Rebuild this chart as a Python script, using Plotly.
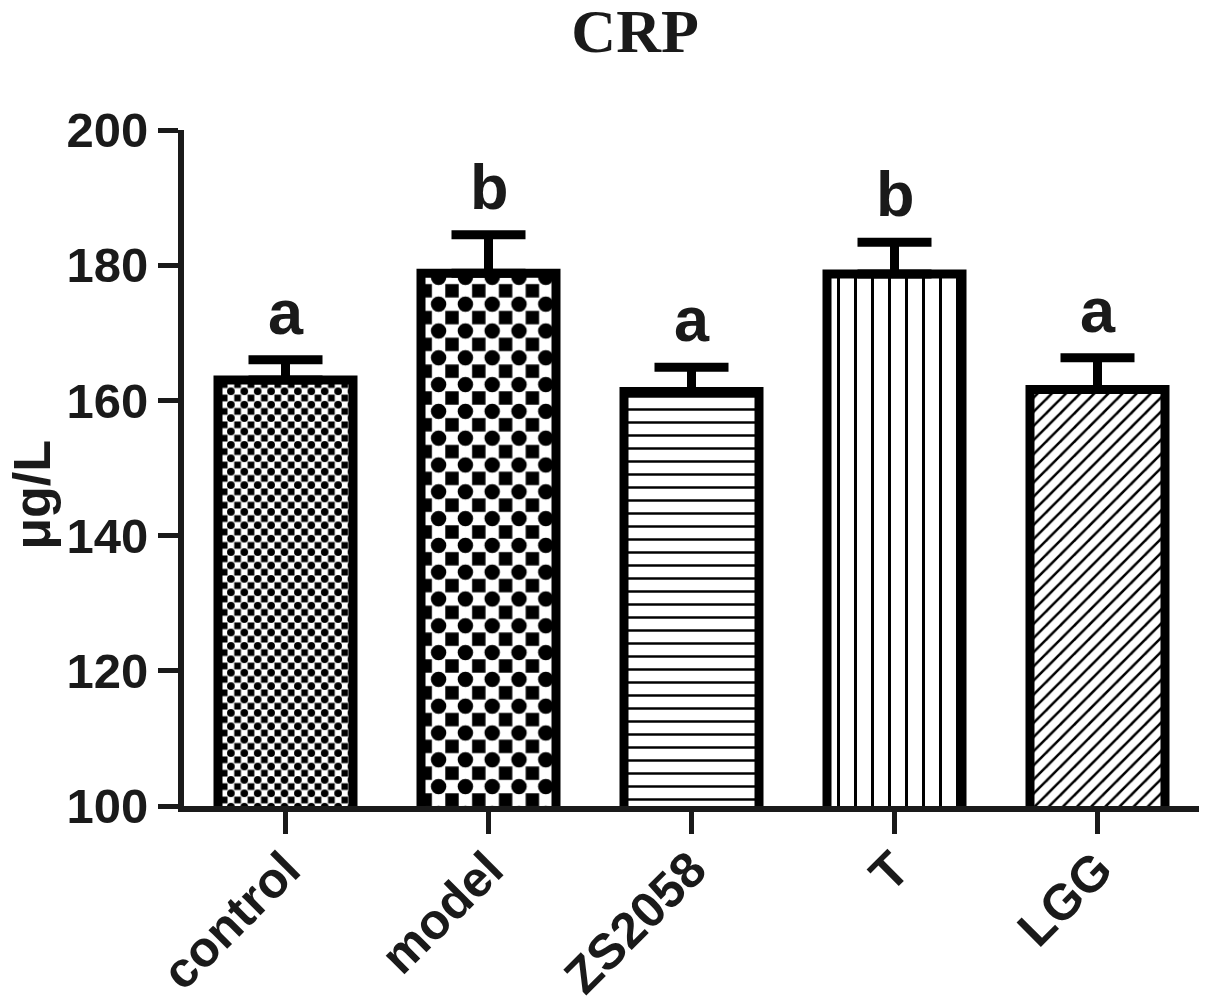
import plotly.graph_objects as go

# CRP levels per group (mean + SEM)
categories = ["control", "model", "ZS2058", "T", "LGG"]
crp_mean = [163.0, 178.8, 161.3, 178.7, 161.6]
crp_sem = [3.0, 5.7, 3.6, 4.7, 4.7]
group_letters = ["a", "b", "a", "b", "a"]

y_ticks = [100, 120, 140, 160, 180, 200]

SANS = "Liberation Sans"
SERIF = "Liberation Serif"
INK = "#1a1a1a"

fig = go.Figure()

# base fill: checker corners for control/model, stripes for the others
fig.add_trace(go.Bar(
    x=categories, y=crp_mean, width=0.665,
    marker=dict(
        color="white",
        line=dict(width=0),
        pattern=dict(
            shape=["+", "+", "-", "|", "/"],
            size=[13.4, 26.8, 13, 17, 10],
            solidity=[0.75, 0.75, 0.19, 0.18, 0.25],
            fgcolor=["white", "white", "black", "black", "black"],
            bgcolor=["black", "black", "white", "white", "white"],
            fillmode="replace",
        ),
    ),
    showlegend=False, hoverinfo="skip",
))

# second layer: checker centres, outlines and error bars
fig.add_trace(go.Bar(
    x=categories, y=crp_mean, width=0.665,
    marker=dict(
        color="rgba(0,0,0,0)",
        line=dict(width=9, color="black"),
        pattern=dict(
            shape=[".", ".", "", "", ""],
            size=[13.4, 26.8, 10, 10, 10],
            solidity=[0.26, 0.26, 0.2, 0.2, 0.2],
            fgcolor="black",
            bgcolor="rgba(0,0,0,0)",
            fillmode="replace",
        ),
    ),
    error_y=dict(type="data", symmetric=False, array=crp_sem,
                 arrayminus=[0] * len(crp_sem),
                 color="black", thickness=9, width=37),
    showlegend=False,
))

for cat, m, e, lab in zip(categories, crp_mean, crp_sem, group_letters):
    fig.add_annotation(x=cat, y=m + e, text=lab, showarrow=False,
                       yanchor="bottom", yshift=11,
                       font=dict(family=SANS, size=63, color=INK, weight="bold"))

# y-axis label sits a bit below the middle of the axis in the original
fig.add_annotation(x=-0.150, y=0.460, xref="paper", yref="paper",
                   text="μg/L", textangle=-90, showarrow=False,
                   xanchor="center", yanchor="middle",
                   font=dict(family=SANS, size=52, color=INK, weight="bold"))

# page body adds an 8px margin, so the figure is 8px smaller than the window
fig.update_layout(
    width=1199, height=1000,
    barmode="overlay",
    paper_bgcolor="white", plot_bgcolor="white",
    margin=dict(l=176, r=8, t=122, b=202, autoexpand=False),
    title=dict(text="CRP", x=0.523, xanchor="center", y=0.978, yanchor="middle",
               font=dict(family=SERIF, size=62, color=INK, weight="bold")),
    font=dict(family=SANS, color=INK),
)

fig.update_xaxes(
    type="category", range=[-0.5, 4.5], automargin=False,
    showline=True, linewidth=6, linecolor=INK,
    ticks="outside", ticklen=22, tickwidth=5, tickcolor=INK,
    tickangle=-45, ticklabelstandoff=-14, showgrid=False, zeroline=False,
    tickfont=dict(family=SANS, size=50, color=INK, weight="bold"),
)

fig.update_yaxes(
    range=[100, 200], tickvals=y_ticks, automargin=False,
    showline=True, linewidth=6, linecolor=INK,
    ticks="outside", ticklen=20, tickwidth=5, tickcolor=INK,
    showgrid=False, zeroline=False,
    tickfont=dict(family=SANS, size=49, color=INK, weight="bold"),
)

fig.write_html("out.html")
